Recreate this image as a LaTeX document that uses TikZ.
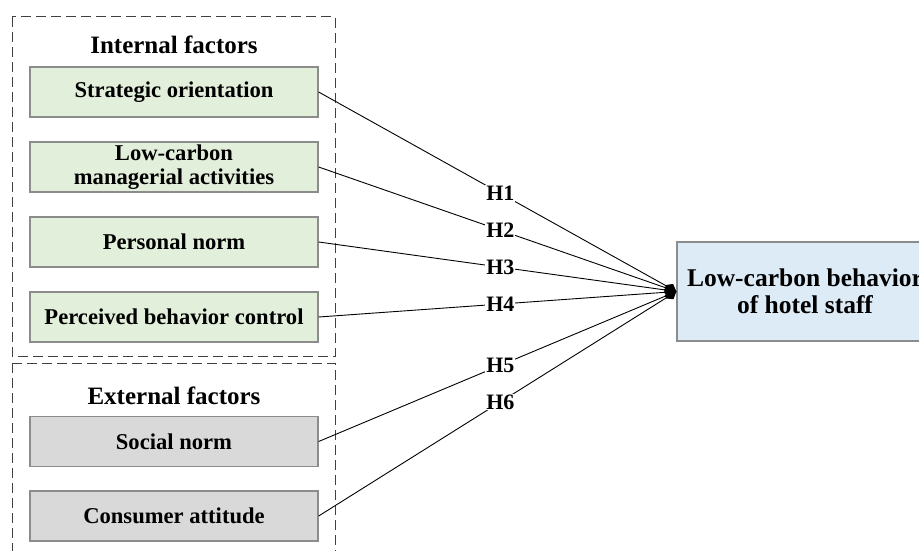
\documentclass[tikz,border=0pt]{standalone}
\usepackage{fontspec}
\setmainfont{Liberation Serif}
\usetikzlibrary{arrows.meta}
\definecolor{gfill}{HTML}{E2EFDA}
\definecolor{grfill}{HTML}{D9D9D9}
\definecolor{bfill}{HTML}{DDEBF7}
\definecolor{bord}{HTML}{8C8C8C}
\definecolor{dashc}{HTML}{404040}
\tikzset{
  factor/.style={draw=bord, line width=1.3pt, minimum width=288pt, minimum height=50pt,
    inner sep=0pt, align=center, font=\fontsize{22.6}{24}\selectfont\bfseries},
  infac/.style={factor, fill=gfill},
  exfac/.style={factor, fill=grfill},
  group/.style={draw=dashc, line width=1pt, dash pattern=on 10pt off 5pt},
  heading/.style={font=\fontsize{25}{27}\selectfont\bfseries, inner sep=0pt},
  hyp/.style={fill=white, inner sep=1pt, font=\fontsize{22}{24}\selectfont\bfseries},
  link/.style={draw=black, line width=0.9pt, -{Diamond[length=13pt,width=10pt]}},
}
\begin{document}
\begin{tikzpicture}[x=1pt,y=-1pt]
\useasboundingbox (0,0) rectangle (919,551);
\clip (0,0) rectangle (919,551);
\draw[group] (12,17) rectangle (335,356);
\draw[group] (12,363) rectangle (335,600);
\node[heading] (inh) at (174,45) {Internal factors};
\node[heading] (exh) at (174,396) {External factors};
\node[infac] (so) at (174,92) {Strategic orientation};
\node[infac] (lc) at (174,167) {Low-carbon\\[0pt]managerial activities};
\node[infac] (pn) at (174,242) {Personal norm};
\node[infac] (pb) at (174,317) {Perceived behavior control};
\node[exfac] (sn) at (174,441.5) {Social norm};
\node[exfac] (ca) at (174,516) {Consumer attitude};
\node[draw=bord, line width=1.3pt, fill=bfill, minimum width=256pt, minimum height=99pt,
  inner sep=0pt, align=center, font=\fontsize{25.5}{27}\selectfont\bfseries]
  (lb) at (805,291.5) {Low-carbon behavior\\[0pt]of hotel staff};
\draw[link] (so.east) -- node[hyp,pos=0.508] {H1} (lb.west);
\draw[link] (lc.east) -- node[hyp,pos=0.508] {H2} (lb.west);
\draw[link] (pn.east) -- node[hyp,pos=0.508] {H3} (lb.west);
\draw[link] (pb.east) -- node[hyp,pos=0.508] {H4} (lb.west);
\draw[link] (sn.east) -- node[hyp,pos=0.508] {H5} (lb.west);
\draw[link] (ca.east) -- node[hyp,pos=0.508] {H6} (lb.west);
\end{tikzpicture}
\end{document}
